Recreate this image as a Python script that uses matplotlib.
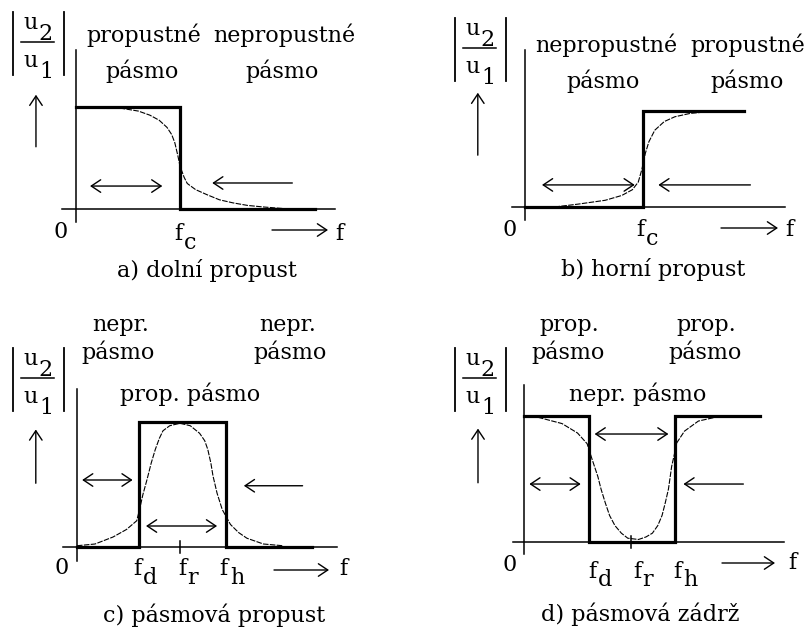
import matplotlib
matplotlib.use("Agg")
import matplotlib.pyplot as plt
import numpy as np

# ---------------- data (normalised: passband amplitude = 1) ----------------
# a) low-pass, f in units of f_c
lp_ideal_f = [0.0, 1.0, 1.0, 2.30]
lp_ideal_a = [1.0, 1.0, 0.0, 0.0]
lp_real_f = [0.42, 0.60, 0.71, 0.80, 0.875, 0.92, 0.95, 0.98, 1.0, 1.04,
             1.07, 1.15, 1.26, 1.38, 1.51, 1.65, 1.80, 2.05]
lp_real_a = [0.99, 0.96, 0.92, 0.87, 0.80, 0.73, 0.65, 0.52, 0.42, 0.31,
             0.25, 0.19, 0.14, 0.09, 0.06, 0.035, 0.02, 0.0]

# b) high-pass, f in units of f_c
hp_ideal_f = [0.0, 1.0, 1.0, 1.86]
hp_ideal_a = [0.0, 0.0, 1.0, 1.0]
hp_real_f = [0.25, 0.45, 0.68, 0.82, 0.91, 0.96, 0.99, 1.02, 1.05, 1.10,
             1.18, 1.27, 1.40, 1.53, 1.70]
hp_real_a = [0.0, 0.03, 0.07, 0.12, 0.18, 0.26, 0.39, 0.56, 0.68, 0.80,
             0.89, 0.94, 0.975, 0.99, 1.0]

# c) band-pass, f in units of f_r
bp_ideal_f = [0.0, 0.60, 0.60, 1.45, 1.45, 2.28]
bp_ideal_a = [0.0, 0.0, 1.0, 1.0, 0.0, 0.0]
bp_real_f = [0.0, 0.175, 0.35, 0.48, 0.58, 0.61, 0.64, 0.68, 0.72, 0.76,
             0.80, 0.835, 0.90, 1.0, 1.10, 1.19, 1.24, 1.27, 1.30, 1.32,
             1.36, 1.41, 1.49, 1.57, 1.65, 1.81, 2.0]
bp_real_a = [0.01, 0.024, 0.08, 0.14, 0.21, 0.31, 0.42, 0.54, 0.67, 0.78,
             0.87, 0.93, 0.97, 0.99, 0.97, 0.91, 0.85, 0.78, 0.67, 0.57,
             0.43, 0.30, 0.18, 0.115, 0.07, 0.024, 0.01]

# d) band-stop, f in units of f_r
bs_ideal_f = [0.0, 0.607, 0.607, 1.41, 1.41, 2.21]
bs_ideal_a = [1.0, 1.0, 0.0, 0.0, 1.0, 1.0]
bs_real_f = [0.13, 0.355, 0.50, 0.59, 0.635, 0.69, 0.72, 0.76, 0.80, 0.85,
             0.91, 0.97, 1.07, 1.14, 1.20, 1.25, 1.29, 1.32, 1.35, 1.38,
             1.43, 1.50, 1.63, 1.79]
bs_real_a = [0.99, 0.94, 0.865, 0.78, 0.66, 0.52, 0.42, 0.31, 0.21, 0.13,
             0.07, 0.03, 0.02, 0.04, 0.07, 0.13, 0.21, 0.31, 0.42, 0.60,
             0.79, 0.88, 0.96, 0.99]

captions = ["a) dolní propust", "b) horní propust",
            "c) pásmová propust", "d) pásmová zádrž"]

# ---------------------------------------------------------------------------
W, H = 809, 632
fig = plt.figure(figsize=(W / 100, H / 100), dpi=100)
fig.patch.set_facecolor("white")

FONT = dict(family="DejaVu Serif", fontsize=16, color="black")

ov = fig.add_axes([0, 0, 1, 1])
ov.set_xlim(0, W)
ov.set_ylim(H, 0)
ov.axis("off")


def txt(x, y, s, ha="center", size=None):
    kw = dict(FONT)
    if size:
        kw["fontsize"] = size
    ov.text(x, y, s, ha=ha, va="baseline", **kw)


def panel(ox, oy, sx, sy):
    ax = fig.add_axes([0, 0, 1, 1])
    ax.set_xlim(-ox / sx, (W - ox) / sx)
    ax.set_ylim((oy - H) / sy, oy / sy)
    ax.axis("off")
    ax.patch.set_alpha(0)
    return ax


AP = "head_length=0.45,head_width=0.3"


def arrow(ax, x0, y0, x1, y1, style="->"):
    ax.annotate("", xy=(x1, y1), xytext=(x0, y0),
                arrowprops=dict(arrowstyle=style + "," + AP,
                                lw=1.0, color="black", shrinkA=0, shrinkB=0,
                                mutation_scale=15))


def ratio(xc, ybar):
    # |u2/u1| label
    ov.plot([xc - 25, xc - 25], [ybar - 30, ybar + 33], color="black", lw=1.3)
    ov.plot([xc + 26, xc + 26], [ybar - 30, ybar + 33], color="black", lw=1.3)
    ov.plot([xc - 17, xc + 16], [ybar, ybar], color="black", lw=1.1)
    txt(xc - 7, ybar - 13, "u")
    txt(xc + 8, ybar - 2, "2")
    txt(xc - 7, ybar + 25, "u")
    txt(xc + 8, ybar + 36, "1")


def axes_lines(ax, xl, xr, yb, yt):
    ax.plot([xl, xr], [0, 0], color="black", lw=1.1)
    ax.plot([0, 0], [yb, yt], color="black", lw=1.1)


IDEAL = dict(color="black", lw=2.3, solid_joinstyle="miter")
REAL = dict(color="black", lw=0.8, ls=(0, (5, 1.2)))

# ---------------- a) low-pass ----------------
ax = panel(76, 209, 104, 102)
axes_lines(ax, -0.135, 2.49, -0.13, 1.56)
ax.plot(lp_ideal_f, lp_ideal_a, **IDEAL)
ax.plot(lp_real_f, lp_real_a, **REAL)
arrow(ax, 0.135, 0.225, 0.83, 0.225, "<->")
arrow(ax, 2.08, 0.255, 1.31, 0.255)
arrow(ax, -0.385, 0.61, -0.385, 1.12)
ratio(38, 42)
txt(144, 42, "propustné")
txt(142, 78, "pásmo")
txt(284, 42, "nepropustné")
txt(282, 78, "pásmo")
txt(61, 238, "0")
txt(178, 240, "f")
txt(190, 249, "c")
ov.annotate("", xy=(328, 230), xytext=(272, 230),
            arrowprops=dict(arrowstyle="->," + AP,
                            lw=1.0, color="black", shrinkA=0, shrinkB=0, mutation_scale=15))
txt(339, 240, "f")
txt(207, 277, captions[0])

# ---------------- b) high-pass ----------------
ax = panel(525, 207, 118, 96)
axes_lines(ax, -0.11, 2.20, -0.135, 1.64)
ax.plot(hp_ideal_f, hp_ideal_a, **IDEAL)
ax.plot(hp_real_f, hp_real_a, **REAL)
arrow(ax, 0.144, 0.23, 0.93, 0.23, "<->")
arrow(ax, 1.91, 0.23, 1.13, 0.23)
arrow(ax, -0.40, 0.54, -0.40, 1.19)
ratio(480, 48)
txt(606, 52, "nepropustné")
txt(603, 88, "pásmo")
txt(748, 52, "propustné")
txt(747, 88, "pásmo")
txt(510, 236, "0")
txt(640, 236, "f")
txt(652, 245, "c")
ov.annotate("", xy=(778, 228), xytext=(721, 228),
            arrowprops=dict(arrowstyle="->," + AP,
                            lw=1.0, color="black", shrinkA=0, shrinkB=0, mutation_scale=15))
txt(789, 236, "f")
txt(653, 276, captions[1])

# ---------------- c) band-pass ----------------
ax = panel(77, 547, 103, 125)
axes_lines(ax, -0.136, 2.52, -0.11, 1.264)
ax.plot(bp_ideal_f, bp_ideal_a, **IDEAL)
ax.plot(bp_real_f, bp_real_a, **REAL)
ax.plot([1.0, 1.0], [-0.05, 0.05], color="black", lw=1.1)
arrow(ax, 0.05, 0.536, 0.54, 0.536, "<->")
arrow(ax, 0.67, 0.168, 1.36, 0.168, "<->")
arrow(ax, 2.19, 0.49, 1.62, 0.49)
arrow(ax, -0.40, 0.51, -0.40, 0.94)
ratio(38, 378)
txt(121, 331, "nepr.")
txt(118, 359, "pásmo")
txt(288, 331, "nepr.")
txt(290, 359, "pásmo")
txt(190, 401, "prop. pásmo")
txt(62, 574, "0")
txt(137, 575, "f")
txt(150, 584, "d")
txt(182, 575, "f")
txt(193, 584, "r")
txt(223, 575, "f")
txt(237, 584, "h")
ov.annotate("", xy=(329, 570), xytext=(274, 570),
            arrowprops=dict(arrowstyle="->," + AP,
                            lw=1.0, color="black", shrinkA=0, shrinkB=0, mutation_scale=15))
txt(343, 575, "f")
txt(214, 622, captions[2])

# ---------------- d) band-stop ----------------
ax = panel(524, 542, 107, 126)
axes_lines(ax, -0.10, 2.43, -0.095, 1.25)
ax.plot(bs_ideal_f, bs_ideal_a, **IDEAL)
ax.plot(bs_real_f, bs_real_a, **REAL)
ax.plot([1.0, 1.0], [-0.05, 0.05], color="black", lw=1.1)
arrow(ax, 0.66, 0.857, 1.35, 0.857, "<->")
arrow(ax, 0.05, 0.46, 0.53, 0.46, "<->")
arrow(ax, 2.05, 0.46, 1.49, 0.46)
arrow(ax, -0.43, 0.47, -0.43, 0.90)
ratio(480, 378)
txt(569, 331, "prop.")
txt(568, 359, "pásmo")
txt(706, 331, "prop.")
txt(705, 359, "pásmo")
txt(638, 401, "nepr. pásmo")
txt(510, 571, "0")
txt(592, 578, "f")
txt(605, 586, "d")
txt(637, 578, "f")
txt(648, 586, "r")
txt(677, 578, "f")
txt(690, 586, "h")
ov.annotate("", xy=(775, 563), xytext=(722, 563),
            arrowprops=dict(arrowstyle="->," + AP,
                            lw=1.0, color="black", shrinkA=0, shrinkB=0, mutation_scale=15))
txt(792, 569, "f")
txt(640, 621, captions[3])

fig.savefig("out.png", dpi=100, facecolor="white")
